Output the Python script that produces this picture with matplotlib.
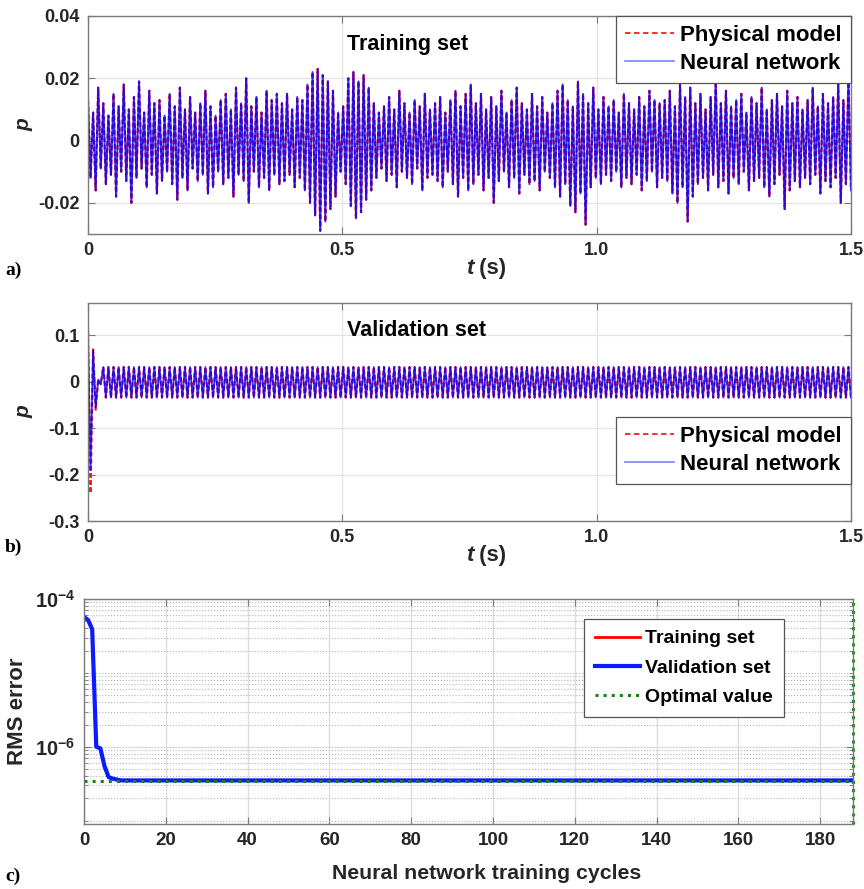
import numpy as np
import matplotlib
matplotlib.use("Agg")
import matplotlib.pyplot as plt
from matplotlib.ticker import FixedLocator, LogLocator, NullFormatter

plt.rcParams['font.family'] = ['Liberation Sans', 'DejaVu Sans']
plt.rcParams['font.weight'] = 'bold'
plt.rcParams['axes.unicode_minus'] = False
plt.rcParams['mathtext.fontset'] = 'custom'
plt.rcParams['mathtext.rm'] = 'Liberation Sans:bold'
plt.rcParams['mathtext.bf'] = 'Liberation Sans:bold'
plt.rcParams['mathtext.it'] = 'Liberation Sans:bold:italic'

# ---------------- data ----------------
# (a) training set: successive peak / trough values of p, in units of 1e-3
train_upper_milli = [13, 9, 17, 12, 8, 15, 11, 18, 10, 14, 19, 9, 16, 12, 13, 8, 15, 11, 17, 10,
                     14, 9, 12, 16, 11, 8, 13, 15, 10, 17, 12, 20, 11, 14, 9, 16, 13, 15,
                     12, 15, 10, 14, 13, 18, 22, 23, 21, 19, 16, 9, 11, 20, 22, 19, 21, 17, 12, 9,
                     11, 14, 10, 16, 12, 9, 13, 11, 15, 10, 12, 14, 9, 13, 16, 11, 15,
                     18, 12, 15, 10, 14, 11, 16, 9, 13, 17, 12, 10, 15, 11, 14, 9, 12, 16, 18, 13,
                     11, 19, 15, 12, 17, 10, 14, 11, 13, 9, 15, 12, 10, 14, 11, 16, 13, 12,
                     13, 16, 11, 18, 14, 17, 12, 15, 10, 14, 19, 12, 16, 11, 13, 15, 9, 14, 12, 17,
                     10, 13, 15, 11, 16, 12, 14, 10, 13, 17, 11, 15, 12, 14, 18, 13, 20]
train_lower_milli = [-12, -16, -9, -14, -11, -18, -10, -13, -20, -12, -9, -15, -11, -17, -13, -10, -14, -19, -12, -16,
                     -9, -13, -11, -17, -15, -10, -14, -12, -18, -11, -13, -20, -10, -15, -12, -16, -11, -14,
                     -13, -11, -15, -12, -16, -20, -24, -29, -26, -22, -18, -10, -14, -21, -25, -23, -19, -16, -12, -9,
                     -13, -11, -15, -10, -12, -14, -9, -16, -12, -11, -13, -15, -10, -14, -18, -12, -16,
                     -14, -11, -16, -12, -20, -13, -10, -15, -12, -17, -11, -14, -13, -16, -10, -12, -15, -18, -14, -21,
                     -23, -17, -27, -15, -12, -14, -11, -13, -10, -15, -12, -14, -11, -16, -13, -10, -15, -12,
                     -13, -17, -20, -15, -26, -18, -14, -12, -16, -11, -15, -13, -17, -12, -14, -10, -16, -13, -12, -15,
                     -18, -14, -11, -22, -16, -13, -15, -12, -14, -11, -17, -13, -15, -12, -20, -14, -16]

# (b) validation set: start-up transient peaks, then steady oscillation
val_phys_transient = [0.11, -0.24, 0.07, -0.06, 0.005, -0.005]
val_nn_transient = [0.10, -0.19, 0.068, -0.055, 0.005, -0.005]
val_steady_upper = 0.032
val_steady_lower = -0.034
val_steady_cycles = 147
t_end = 1.5

# (c) RMS error vs training cycles
rms_first_cycles = [5.7e-5, 5.2e-5, 3.9e-5, 1.0e-6, 9.5e-7, 5.5e-7, 3.9e-7, 3.7e-7, 3.6e-7]
rms_plateau = 3.5e-7
n_cycles_total = 189
best_epoch = 188
best_value = 3.4e-7

# ---------------- build series ----------------
train_p = []
for u, l in zip(train_upper_milli, train_lower_milli):
    train_p += [u * 1e-3, l * 1e-3]
train_p = np.array(train_p)
t_train = np.linspace(0, t_end, len(train_p))

steady = [val_steady_upper, val_steady_lower] * val_steady_cycles
val_phys = np.array(val_phys_transient + steady)
val_nn = np.array(val_nn_transient + steady)
t_val = np.linspace(0, t_end, len(val_phys))

rms = np.array(rms_first_cycles + [rms_plateau] * (n_cycles_total - len(rms_first_cycles)))
epochs = np.arange(n_cycles_total)

# ---------------- figure ----------------
W, H = 864, 889
fig = plt.figure(figsize=(W / 100, H / 100), dpi=100)

def fr(l, t, r, b):
    return [l / W, 1 - b / H, (r - l) / W, (b - t) / H]

ax_a = fig.add_axes(fr(88, 16, 851, 234))
ax_b = fig.add_axes(fr(88, 303, 851, 521))
ax_c = fig.add_axes(fr(84, 599, 853, 824))

spine_col = '#7a7a7a'
txt_col = '#262626'

def style(ax, size):
    for s in ax.spines.values():
        s.set_color(spine_col)
        s.set_linewidth(1.0)
    ax.tick_params(direction='in', length=5, width=0.8, color=spine_col,
                   labelsize=size, labelcolor=txt_col, top=True, right=True, pad=6)
    for lab in ax.get_xticklabels() + ax.get_yticklabels():
        lab.set_fontweight('bold')
    ax.set_axisbelow(True)

red = '#ff1a1a'
blue = '#0000ff'

# ---- panel a ----
ax_a.plot(t_train, train_p, color=red, ls='--', lw=1.6, dashes=(2.0, 1.2), label='Physical model')
ax_a.plot(t_train, train_p, color=blue, lw=1.4, alpha=0.8, label='Neural network')
ax_a.set_xlim(0, 1.5)
ax_a.set_ylim(-0.03, 0.04)
ax_a.set_xticks([0, 0.5, 1.0, 1.5])
ax_a.set_xticklabels(['0', '0.5', '1.0', '1.5'])
ax_a.set_yticks([-0.02, 0, 0.02, 0.04])
ax_a.set_yticklabels(['-0.02', '0', '0.02', '0.04'])
ax_a.grid(True, color='#e3e3e3', lw=0.9)
style(ax_a, 13)
ax_a.text(0.419, 0.867, 'Training set', transform=ax_a.transAxes, ha='center', va='center',
          fontsize=15.5, fontweight='bold', color='black')

# ---- panel b ----
ax_b.plot(t_val, val_phys, color=red, ls='--', lw=1.6, dashes=(2.0, 1.2), label='Physical model')
ax_b.plot(t_val, val_nn, color=blue, lw=1.3, alpha=0.8, label='Neural network')
ax_b.set_xlim(0, 1.5)
ax_b.set_ylim(-0.3, 0.17)
ax_b.set_xticks([0, 0.5, 1.0, 1.5])
ax_b.set_xticklabels(['0', '0.5', '1.0', '1.5'])
ax_b.set_yticks([-0.3, -0.2, -0.1, 0, 0.1])
ax_b.set_yticklabels(['-0.3', '-0.2', '-0.1', '0', '0.1'])
ax_b.grid(True, color='#e3e3e3', lw=0.9)
style(ax_b, 13)
ax_b.text(0.43, 0.876, 'Validation set', transform=ax_b.transAxes, ha='center', va='center',
          fontsize=15.5, fontweight='bold', color='black')

for ax, anchor in ((ax_a, (1.0, 1.0)), (ax_b, (1.0, 0.477))):
    lg = ax.legend(loc='upper right', bbox_to_anchor=anchor, borderaxespad=0, fancybox=False,
                   framealpha=1, edgecolor='#555555', handlelength=2.2, labelspacing=0.33,
                   borderpad=0.4, handletextpad=0.3,
                   prop={'size': 16, 'weight': 'bold'})
    lg.get_frame().set_linewidth(0.9)
    lg.get_lines()[0].set_linewidth(1.3)
    lg.get_lines()[0].set_dashes((3, 2))
    lg.get_lines()[1].set_color('#8080ff')
    lg.get_lines()[1].set_alpha(1)
    lg.get_lines()[1].set_linewidth(1.2)
    ax.text(0.505, -0.156, 't', transform=ax.transAxes, ha='right', va='center',
            fontsize=16, fontweight='bold', style='italic', color=txt_col)
    ax.text(0.505, -0.156, ' (s)', transform=ax.transAxes, ha='left', va='center',
            fontsize=16, fontweight='bold', color=txt_col)
    ax.set_ylabel('p', fontsize=15, fontweight='bold', style='italic', color=txt_col)
    ax.yaxis.set_label_coords(-0.071, 0.5)

# ---- panel c ----
ax_c.plot(epochs, rms, color='#ff0000', lw=2.0, label='Training set')
ax_c.plot(epochs, rms, color='#0a1cff', lw=3.0, label='Validation set')
ax_c.hlines(best_value, 0, best_epoch, colors='#118811', linestyles=':', lw=2.2, label='Optimal value')
ax_c.axvline(best_epoch, color='#118811', ls=':', lw=2.2, clip_on=False)
ax_c.set_yscale('log')
ax_c.set_xlim(0, 188)
ax_c.set_ylim(9e-8, 1e-4)
ax_c.set_xticks(np.arange(0, 181, 20))
ax_c.yaxis.set_major_locator(FixedLocator([1e-6, 1e-4]))
ax_c.set_yticklabels([r'$\mathbf{10^{-6}}$', r'$\mathbf{10^{-4}}$'])
ax_c.yaxis.set_minor_locator(LogLocator(base=10, subs=np.arange(1, 10), numticks=20))
ax_c.yaxis.set_minor_formatter(NullFormatter())
ax_c.grid(True, which='major', color='#dcdcdc', lw=0.9)
ax_c.yaxis.grid(True, which='minor', color='#b5b5b5', ls=':', lw=0.8)
style(ax_c, 13.5)
ax_c.tick_params(which='minor', direction='in', length=3, color=spine_col, right=True)
ax_c.tick_params(axis='y', which='major', labelsize=14.5)
lg = ax_c.legend(loc='upper right', bbox_to_anchor=(0.91, 0.911), borderaxespad=0, fancybox=False,
                 framealpha=1, edgecolor='#555555', handlelength=2.3, labelspacing=0.6,
                 borderpad=0.55, handletextpad=0.3, prop={'size': 14, 'weight': 'bold'})
lg.get_frame().set_linewidth(0.9)
ax_c.set_ylabel('RMS error', fontsize=16, fontweight='bold', color=txt_col)
ax_c.yaxis.set_label_coords(-0.073, 0.5)
xl = ax_c.set_xlabel('Neural network training cycles', fontsize=15.3, fontweight='bold', color=txt_col)
xl.set_va('center')
ax_c.xaxis.set_label_coords(0.523, -0.218)

# panel letters
for lab, y in (('a)', 270), ('b)', 547), ('c)', 876)):
    fig.text(5 / W, 1 - y / H, lab, family=['Liberation Serif', 'DejaVu Serif'], fontsize=14,
             fontweight='bold', ha='left', va='center')

fig.savefig('out.png', dpi=100)
